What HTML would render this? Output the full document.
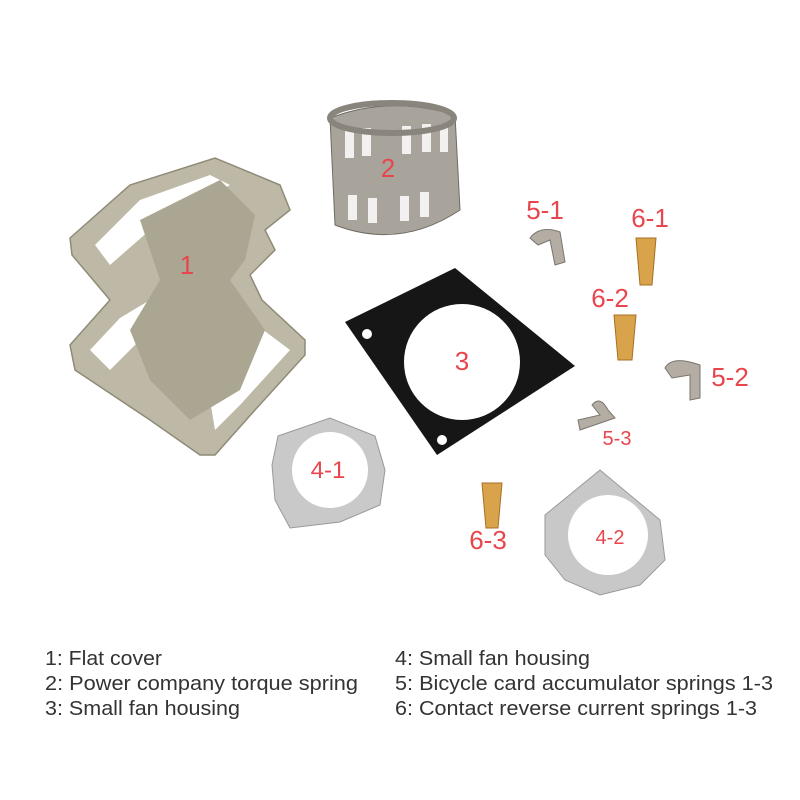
<!DOCTYPE html>
<html><head><meta charset="utf-8"><style>
html,body{margin:0;padding:0;background:#fff;}
svg{display:block;}
</style></head><body>
<svg width="800" height="800" viewBox="0 0 800 800" xmlns="http://www.w3.org/2000/svg">
<rect width="800" height="800" fill="#fff"/>
<!-- flat cover -->
<g fill="#bdb9a6" stroke="#8f8b78" stroke-width="1.5">
<path d="M70,238 L130,185 L215,158 L280,185 L290,210 L265,230 L275,250 L250,275 L262,300 L305,340 L305,355 L255,410 L215,455 L200,455 L150,420 L75,370 L70,345 L110,300 L72,255 Z"/>
</g>
<g fill="#fff">
<path d="M95,245 L140,200 L210,175 L230,185 L150,230 L110,265 Z"/>
<path d="M90,350 L120,318 L150,300 L150,330 L110,370 Z"/>
<path d="M250,320 L290,350 L240,405 L215,430 L210,400 Z"/>
<circle cx="232" cy="243" r="11"/>
</g>
<path d="M140,220 L220,180 L255,215 L245,260 L230,280 L265,330 L240,390 L190,420 L150,380 L130,330 L160,280 Z" fill="#aaa692"/>
<!-- cylinder spring -->
<path d="M330,118 Q390,95 455,115 L460,210 Q400,250 335,225 Z" fill="#a9a49b" stroke="#6f6a62"/>
<g fill="#fff" opacity="0.85">
<rect x="345" y="130" width="9" height="28"/><rect x="362" y="128" width="9" height="28"/><rect x="402" y="126" width="9" height="28"/><rect x="422" y="124" width="9" height="28"/><rect x="440" y="124" width="8" height="28"/>
<rect x="348" y="195" width="9" height="25"/><rect x="368" y="198" width="9" height="25"/><rect x="400" y="196" width="9" height="25"/><rect x="420" y="192" width="9" height="25"/>
</g>
<ellipse cx="392" cy="118" rx="62" ry="15" fill="none" stroke="#8a857c" stroke-width="6"/>
<!-- black plate -->
<path d="M345,322 L455,268 L575,366 L437,455 Z" fill="#161616"/>
<circle cx="462" cy="362" r="58" fill="#fff"/>
<circle cx="367" cy="334" r="5" fill="#fff"/><circle cx="492" cy="291" r="5" fill="#fff"/><circle cx="442" cy="440" r="5" fill="#fff"/>
<!-- 4-1 ring -->
<path d="M278,436 L330,418 L375,436 L385,470 L380,505 L340,522 L290,528 L275,500 L272,465 Z" fill="#c9c9c9" stroke="#999"/>
<circle cx="330" cy="470" r="38" fill="#fff"/>
<!-- 4-2 ring -->
<path d="M545,515 L600,470 L660,520 L665,560 L640,585 L600,595 L565,580 L545,555 Z" fill="#c8c8c8" stroke="#999"/>
<circle cx="608" cy="535" r="40" fill="#fff"/>
<!-- gold springs -->
<g fill="#d9a34c" stroke="#a86f20">
<path d="M636,238 L656,238 L652,285 L640,285 Z"/>
<path d="M614,315 L636,315 L632,360 L618,360 Z"/>
<path d="M482,483 L502,483 L498,528 L486,528 Z"/>
</g>
<!-- clips -->
<g fill="#b3ada4" stroke="#7a756e">
<path d="M530,238 Q540,225 560,232 L565,262 L555,265 L550,240 L538,245 Z"/>
<path d="M665,368 Q672,355 700,365 L700,398 L690,400 L690,375 L672,378 Z"/>
<path d="M580,430 L615,418 L608,410 Q600,395 592,405 L600,415 L578,420 Z"/>
</g>
<!-- red labels -->
<g fill="#e8464c" font-family="Liberation Sans, sans-serif" font-size="26" text-anchor="middle">
<text x="187" y="274">1</text><text x="388" y="177">2</text><text x="462" y="370">3</text>
<text x="328" y="478" font-size="24">4-1</text><text x="610" y="544" font-size="20">4-2</text>
<text x="545" y="219">5-1</text><text x="650" y="227">6-1</text><text x="610" y="307">6-2</text>
<text x="730" y="386">5-2</text><text x="617" y="445" font-size="20">5-3</text><text x="488" y="549">6-3</text>
</g>
<!-- legend -->
<g fill="#333" font-family="Liberation Sans, sans-serif" font-size="20">
<text x="45" y="665" textLength="117" lengthAdjust="spacingAndGlyphs">1: Flat cover</text>
<text x="45" y="690" textLength="313" lengthAdjust="spacingAndGlyphs">2: Power company torque spring</text>
<text x="45" y="715" textLength="195" lengthAdjust="spacingAndGlyphs">3: Small fan housing</text>
<text x="395" y="665" textLength="195" lengthAdjust="spacingAndGlyphs">4: Small fan housing</text>
<text x="395" y="690" textLength="378" lengthAdjust="spacingAndGlyphs">5: Bicycle card accumulator springs 1-3</text>
<text x="395" y="715" textLength="362" lengthAdjust="spacingAndGlyphs">6: Contact reverse current springs 1-3</text>
</g>
</svg>
</body></html>
